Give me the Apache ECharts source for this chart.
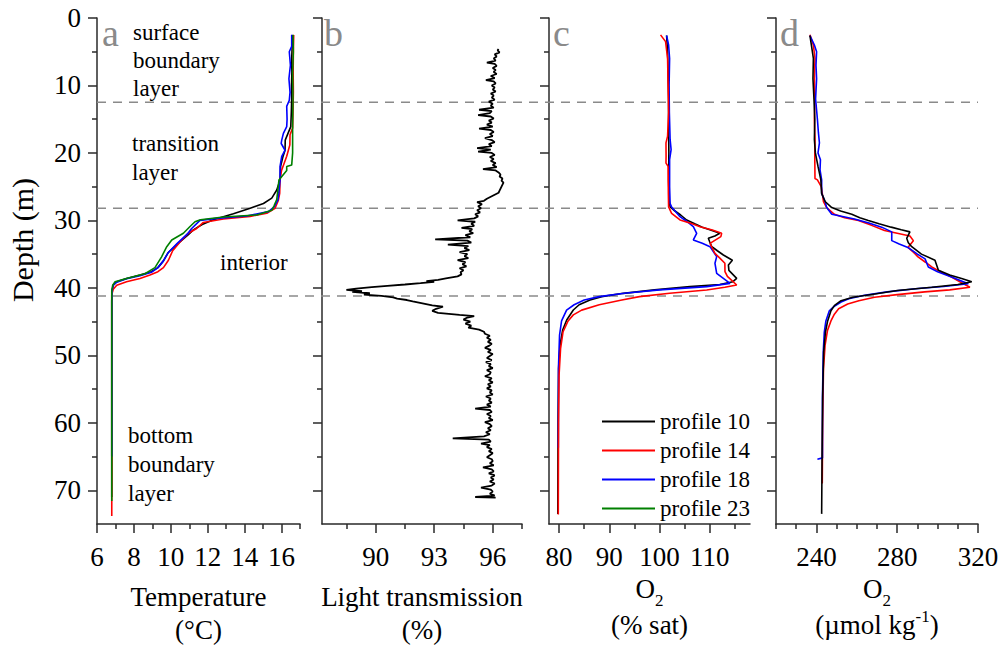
<!DOCTYPE html>
<html><head><meta charset="utf-8">
<script src="https://cdn.jsdelivr.net/npm/echarts@6/dist/echarts.min.js"></script>
<style>html,body{margin:0;padding:0;background:#fff}#c{width:1002px;height:654px}</style>
</head><body><div id="c"></div>
<script>
// ---------- tick values ----------
const depthTicks = [0, 10, 20, 30, 40, 50, 60, 70];
const depthMinor = [5, 15, 25, 35, 45, 55, 65];
const tempTicks = [6, 8, 10, 12, 14, 16];
const tempMinor = [7, 9, 11, 13, 15, 17];
const lightTicks = [90, 93, 96];
const lightMinor = [88.5, 91.5, 94.5, 97.5];
const satTicks = [80, 90, 100, 110];
const satMinor = [85, 95, 105, 115];
const umolTicks = [240, 280, 320];
const umolMinor = [220, 230, 250, 260, 270, 290, 300, 310];
const layerDepths = [12.5, 28.2, 41.2];
const profileNames = ['profile 10', 'profile 14', 'profile 18', 'profile 23'];

// ---------- panel a: temperature [°C, depth m] ----------
const temp10 = [[16.6,2.5],[16.58,4],[16.55,6],[16.56,8],[16.54,10],[16.55,12],[16.53,14],[16.5,16.1],[16.35,17.1],[16.2,18.1],[16.19,19.6],[16.07,20.6],[15.95,22],[15.92,24],[15.74,25.5],[15.47,26.7],[15.02,27.5],[14.3,28.2],[13.39,29.0],[12.3,29.9],[11.7,30.6],[11.22,31.4],[10.95,32.1],[10.4,33.4],[9.85,34.8],[9.6,36],[9.3,37],[8.95,37.6],[8.33,38.1],[7.6,38.6],[7.07,39.1],[6.88,39.6],[6.81,40.5],[6.8,42],[6.8,55],[6.8,71]];
const temp14 = [[16.66,2.5],[16.64,5],[16.63,8],[16.64,11],[16.62,14],[16.6,16.3],[16.46,17.3],[16.45,18.8],[16.37,19.6],[16.28,20.5],[16.0,22.6],[15.92,24],[15.9,26],[15.83,27],[15.65,28.2],[15.2,28.95],[14.3,29.4],[12.85,29.8],[11.76,30.3],[11.4,31.2],[10.95,31.9],[10.5,33.2],[10.1,34.5],[9.87,35.9],[9.6,37],[9.3,37.6],[8.87,38.1],[8.33,38.6],[7.6,39.1],[7.07,39.6],[6.88,40.2],[6.8,41],[6.8,55],[6.8,73.8]];
const temp18 = [[16.55,2.5],[16.55,4.2],[16.42,5],[16.48,7],[16.4,9],[16.46,11],[16.42,12.2],[16.28,13.1],[16.3,15],[16.28,16.1],[16.1,17.1],[16.01,18.1],[15.98,18.6],[16.19,19.6],[16.01,20.5],[15.92,22],[15.92,24],[15.85,26],[15.8,27],[15.6,28],[15.29,28.7],[14.11,29.35],[12.49,29.7],[11.58,30.0],[11.13,31.2],[10.9,32],[10.35,33.4],[9.85,34.8],[9.6,36],[9.3,37],[8.95,37.7],[8.33,38.2],[7.6,38.65],[7.07,39.15],[6.88,39.6],[6.81,40.5],[6.8,42],[6.8,65]];
const temp23 = [[16.62,2.5],[16.64,5],[16.6,8],[16.62,12],[16.6,16],[16.6,20],[16.55,21.8],[16.28,22.0],[16.28,22.6],[15.86,24],[15.8,25.5],[15.74,26.9],[15.6,27.8],[15.47,28.5],[14.66,29.2],[12.85,29.5],[11.6,29.9],[11.31,30.2],[11.04,30.9],[10.68,31.9],[10.05,32.9],[9.78,33.9],[9.5,35.4],[9.14,37],[8.6,37.9],[7.6,38.6],[6.98,39.1],[6.85,39.6],[6.8,40.5],[6.8,55],[6.8,71.6]];

// ---------- panel b: light transmission [%, depth m] ----------
const light = [[96.3,4.6],[96.25,4.8],[96.35,5.1],[96.1,5.4],[96.2,5.7],[96.05,6.0],[96.15,6.3],[95.7,6.6],[96.1,6.8],[96.2,7.1],[96.0,7.4],[96.15,7.7],[96.05,8.0],[96.2,8.3],[95.9,8.6],[96.1,8.9],[95.65,9.2],[96.05,9.4],[96.15,9.7],[95.95,10.0],[96.1,10.3],[96.0,10.6],[96.15,10.9],[95.9,11.2],[96.05,11.5],[95.95,11.8],[96.1,12.1],[95.8,12.4],[96.0,12.7],[95.9,13.0],[96.05,13.3],[95.3,13.6],[95.95,13.8],[95.85,14.1],[95.25,14.4],[95.9,14.6],[96.05,14.9],[95.8,15.2],[95.95,15.5],[95.7,15.8],[96.0,16.1],[95.3,16.4],[95.9,16.6],[96.05,16.9],[95.85,17.2],[96.0,17.5],[95.6,17.8],[95.95,18.1],[96.1,18.4],[95.8,18.7],[95.95,19.0],[95.2,19.3],[95.9,19.5],[95.25,19.8],[95.95,20.0],[96.1,20.3],[95.85,20.6],[96.05,20.9],[95.9,21.2],[96.15,21.5],[96.0,21.8],[96.2,22.1],[95.5,22.4],[96.15,22.6],[96.3,22.9],[96.4,23.2],[96.35,23.5],[96.5,23.8],[96.45,24.1],[96.55,24.4],[96.5,24.7],[96.45,25.0],[96.4,25.3],[96.35,25.6],[96.3,25.9],[96.1,26.2],[95.9,26.5],[95.7,26.8],[95.55,27.1],[95.2,27.3],[95.45,27.6],[95.25,27.9],[95.4,28.2],[95.2,28.5],[95.35,28.8],[95.1,29.1],[95.25,29.4],[95.05,29.7],[94.2,30.0],[95.1,30.2],[94.9,30.5],[95.05,30.8],[94.4,31.1],[94.95,31.3],[94.8,31.6],[95.0,31.9],[94.6,32.2],[94.85,32.5],[93.05,32.8],[94.7,33.0],[94.9,33.3],[93.7,33.6],[94.75,33.8],[94.55,34.1],[94.8,34.4],[94.3,34.7],[94.7,35.0],[94.55,35.3],[94.75,35.6],[94.2,35.9],[94.6,36.2],[94.45,36.5],[94.65,36.8],[94.3,37.1],[94.5,37.4],[94.35,37.7],[94.4,38.0],[94.2,38.3],[93.6,38.6],[93.2,38.8],[92.6,39.0],[93.0,39.1],[92.3,39.3],[91.5,39.5],[90.6,39.7],[89.8,39.9],[89.0,40.1],[88.5,40.3],[89.3,40.5],[88.8,40.6],[89.7,40.8],[89.4,41.0],[90.3,41.2],[90.9,41.4],[91.1,41.6],[91.6,41.8],[91.9,42.0],[92.4,42.3],[92.9,42.6],[93.45,42.8],[93.1,43.1],[92.9,43.4],[93.2,43.7],[94.3,44.0],[95.05,44.2],[94.7,44.4],[94.5,44.7],[94.85,45.0],[94.6,45.3],[94.9,45.6],[94.75,45.9],[95.3,46.2],[95.55,46.5],[95.6,46.8],[95.85,47.1],[95.7,47.4],[95.9,47.7],[95.75,48.0],[95.95,48.3],[95.8,48.6],[95.6,48.9],[95.9,49.2],[95.75,49.5],[96.0,49.8],[95.85,50.1],[95.7,50.4],[95.95,50.7],[95.65,51.0],[95.9,51.3],[95.8,51.6],[96.0,51.9],[95.7,52.2],[95.9,52.5],[95.85,52.8],[95.6,53.1],[95.95,53.4],[95.8,53.7],[96.0,54.0],[95.75,54.3],[95.9,54.6],[95.7,54.9],[95.95,55.2],[95.85,55.5],[96.0,55.8],[95.65,56.1],[95.9,56.4],[95.8,56.7],[95.95,57.0],[95.7,57.3],[95.9,57.6],[95.1,57.9],[95.85,58.1],[95.95,58.4],[95.7,58.7],[95.9,59.0],[95.8,59.3],[96.0,59.6],[95.6,59.9],[95.85,60.2],[95.95,60.5],[95.75,60.8],[95.9,61.1],[95.65,61.4],[95.85,61.7],[95.55,62.0],[93.95,62.3],[95.8,62.5],[95.9,62.8],[95.4,63.1],[95.85,63.3],[95.7,63.6],[95.95,63.9],[95.8,64.2],[96.0,64.5],[95.85,64.8],[95.7,65.1],[95.95,65.4],[96.0,65.7],[95.85,66.0],[96.05,66.3],[95.5,66.6],[95.95,66.9],[96.05,67.2],[95.8,67.5],[96.1,67.8],[95.9,68.1],[96.05,68.4],[95.85,68.7],[96.1,69.0],[95.95,69.3],[95.4,69.6],[95.9,69.9],[96.0,70.2],[95.85,70.5],[96.1,70.8],[95.1,71.0],[96.15,71.1]];

// ---------- panel c: O2 % saturation [%, depth m] ----------
const sat10 = [[101.4,2.6],[101.6,5],[101.7,8],[101.8,12],[101.8,16],[101.85,20],[101.8,24],[101.9,27],[102.1,28.0],[102.8,28.46],[104.2,29.2],[105.4,29.94],[107.0,30.5],[108.5,31.0],[110.0,31.4],[112.0,31.91],[111.0,32.3],[109.7,32.65],[110.0,33.2],[110.4,33.9],[111.5,34.5],[112.7,35.13],[114.5,35.9],[113.7,36.6],[113.8,37.4],[115.35,38.59],[114.6,39.08],[112,39.5],[106.06,39.82],[99,40.3],[92.8,40.81],[88.5,41.3],[86.16,41.8],[84,42.5],[82.84,43.28],[81.52,44.76],[80.72,46.24],[80.2,48.5],[79.9,52],[79.8,60],[79.75,73.5]];
const sat14 = [[100.2,2.5],[101.2,3.5],[101.6,6],[101.7,10],[101.8,14],[101.6,17.5],[101.28,18.5],[101.3,20.5],[101.28,21.5],[101.7,22],[101.75,26],[101.8,28.0],[102.4,28.95],[104.07,29.94],[106.5,30.5],[108.05,30.93],[110.5,31.42],[112.36,31.91],[112.2,32.4],[110.04,33.4],[110.5,34.1],[111.03,34.88],[112.0,35.6],[113.0,36.36],[113.02,37.6],[113.5,38.3],[115.35,39.58],[113,39.9],[109.38,40.32],[102,40.8],[96,41.3],[92.5,41.8],[88,42.5],[84.5,43.3],[82.84,44.0],[81.8,44.9],[80.8,46.5],[80.3,49],[80.0,53],[79.9,60],[79.85,73.6]];
const sat18 = [[101.4,2.6],[101.8,4],[102.0,6],[101.9,10],[101.95,14],[102.1,18],[102.3,19.5],[102.0,21],[102.0,25],[102.1,27.5],[102.4,28.0],[104.07,29.45],[105.5,30.2],[106.72,30.93],[107.39,31.91],[106.72,32.9],[108.5,33.4],[110.04,33.89],[111.37,35.37],[111.03,36.36],[111.37,37.85],[112.7,38.59],[114.02,39.33],[109.38,39.82],[100,40.3],[93,40.8],[88,41.3],[85,41.8],[83,42.5],[81.5,43.3],[80.5,44.9],[80.1,47],[79.9,51.5],[79.85,63.7]];

// ---------- panel d: O2 µmol/kg [µmol kg-1, depth m] ----------
const umol10 = [[236.8,2.6],[237.5,4],[238.5,6],[238.3,9],[238.8,12],[239.2,15],[239.0,18],[239.5,20],[240.8,22],[242.2,24],[242.6,26],[244.3,27.2],[247.6,28.1],[252,28.6],[257.5,29.1],[261.5,29.6],[265.7,30.0],[271,30.5],[277,31.0],[282,31.4],[286.3,31.7],[284.7,32.65],[285.5,33.3],[287.2,33.9],[292,35.0],[298.7,35.9],[300.4,37.4],[306,38.1],[311.9,38.6],[316.9,39.1],[310,39.5],[297.1,39.9],[280,40.4],[269,40.9],[258,41.4],[252.2,41.9],[249,42.6],[247.2,43.4],[245.5,45],[244.5,46.5],[243.6,49.5],[243.1,56],[242.8,65],[242.6,73.5]];
const umol14 = [[236.8,2.5],[238.5,4],[239.3,6],[239.0,9],[239.3,12],[239.0,15],[239.3,18],[239.2,20.8],[239.3,23.8],[240.5,24],[242.4,25],[243.5,27.2],[245.1,28.1],[248.9,29.1],[254,29.6],[260.8,30.0],[267,30.7],[273.7,31.5],[280,31.9],[286.3,32.3],[288,33],[285.3,34],[288,34.7],[290.3,35.4],[294,36.2],[297.1,36.9],[302,37.7],[306.9,38.4],[311,39.1],[316,39.9],[306,40.3],[293.6,40.6],[280,41.0],[268.8,41.4],[261,41.9],[255.5,42.4],[251,43.1],[248.9,43.9],[247.2,44.9],[245.5,46.3],[244.3,48.5],[243.5,52],[243.1,60],[242.9,69]];
const umol18 = [[236.8,2.6],[239,4],[240.1,5],[239.8,7],[240.1,9],[239.6,12],[240.5,15],[241.0,17],[241.5,18.5],[240.8,20],[242.0,21],[241.8,22.5],[242.6,24],[242.6,26],[244.3,27.2],[245.1,28.1],[247.6,29.1],[258.8,29.8],[266,30.4],[272.3,31.0],[277.3,31.7],[277.3,33.0],[281,33.5],[285.3,34.0],[290,35.0],[293.8,35.7],[295.4,36.9],[300,37.6],[306.9,38.4],[315.2,39.4],[303,39.8],[290.3,40.1],[275,40.6],[263.8,41.1],[256,41.6],[252.2,42.1],[248.5,42.8],[246.4,43.4],[244.7,44.9],[243.9,46.6],[243.4,49.5],[243,56.4],[243,65.2],[240.5,65.4]];

// ---------- layout ----------
const FONT = 'Liberation Serif';
const TOP = 18, HEIGHT = 506;
const panels = [
  { left: 97,  width: 203, min: 6,     max: 17,    ticks: tempTicks,  minor: tempMinor,  name: '{t|Temperature}\n{t|(°C)}', gap: 56.5 },
  { left: 322, width: 200, min: 87.25, max: 97.5,  ticks: lightTicks, minor: lightMinor, name: '{t|Light transmission}\n{t|(%)}', gap: 56.5 },
  { left: 549, width: 201, min: 78,    max: 118,   ticks: satTicks,   minor: satMinor,   name: '{o|O}{s|2}\n{t|(% sat)}', gap: 50.5 },
  { left: 776, width: 202, min: 220,   max: 320,   ticks: umolTicks,  minor: umolMinor,  name: '{o|O}{s|2}\n{t|(µmol kg}{sup|-1}{t|)}', gap: 50.5 }
];
const AX = '#2a2a2a';
const rich = {
  t: { fontFamily: FONT, fontSize: 27, lineHeight: 33, color: '#000' },
  o: { fontFamily: FONT, fontSize: 27, lineHeight: 27, padding: [0, 0, 12, 0], color: '#000' },
  s: { fontFamily: FONT, fontSize: 17, lineHeight: 17, padding: [11, 0, 0, 0], color: '#000' },
  sup: { fontFamily: FONT, fontSize: 17, lineHeight: 17, padding: [0, 0, 16, 0], color: '#000' }
};

const grid = [], xAxis = [], yAxis = [];
panels.forEach((p, i) => {
  grid.push({ left: p.left, width: p.width, top: TOP, height: HEIGHT, containLabel: false });
  xAxis.push({
    type: 'value', gridIndex: i, min: p.min, max: p.max, position: 'bottom',
    axisLine: { show: true, onZero: false, lineStyle: { color: AX, width: 1.5 } },
    axisTick: { show: true, inside: false, length: 9, customValues: p.ticks, lineStyle: { color: AX, width: 1.5 } },
    axisLabel: { show: true, customValues: p.ticks, margin: 20, fontFamily: FONT, fontSize: 27, color: '#000', lineHeight: 26 },
    splitLine: { show: false },
    name: p.name, nameLocation: 'middle', nameGap: p.gap,
    nameTextStyle: { fontFamily: FONT, fontSize: 27, lineHeight: 33, color: '#000', rich: rich }
  });
  xAxis.push({
    type: 'value', gridIndex: i, min: p.min, max: p.max, position: 'bottom',
    axisLine: { show: false, onZero: false },
    axisTick: { show: true, inside: false, length: 5, customValues: p.minor, lineStyle: { color: AX, width: 1.5 } },
    axisLabel: { show: false }, splitLine: { show: false }
  });
  yAxis.push({
    type: 'value', gridIndex: i, min: 0, max: 75, inverse: true, position: 'left',
    axisLine: { show: true, onZero: false, lineStyle: { color: AX, width: 1.5 } },
    axisTick: { show: true, inside: false, length: 9, customValues: depthTicks, lineStyle: { color: AX, width: 1.5 } },
    axisLabel: { show: i === 0, customValues: depthTicks, margin: 16, fontFamily: FONT, fontSize: 27, color: '#000' },
    splitLine: { show: false },
    name: i === 0 ? 'Depth (m)' : '', nameLocation: 'middle', nameRotate: 90, nameGap: 60,
    nameTextStyle: { fontFamily: FONT, fontSize: 30, color: '#000', padding: [0, 0, 0, 62] }
  });
  yAxis.push({
    type: 'value', gridIndex: i, min: 0, max: 75, inverse: true, position: 'left',
    axisLine: { show: false, onZero: false },
    axisTick: { show: true, inside: false, length: 5, customValues: depthMinor, lineStyle: { color: AX, width: 1.5 } },
    axisLabel: { show: false }, splitLine: { show: false }
  });
});
// overlay spanning all panels for the layer boundaries
grid.push({ left: 97, width: 881, top: TOP, height: HEIGHT });
xAxis.push({ type: 'value', gridIndex: 4, min: 0, max: 1, show: false });
yAxis.push({ type: 'value', gridIndex: 4, min: 0, max: 75, inverse: true, show: false });

const COLORS = { 'profile 10': '#000000', 'profile 14': '#ff0000', 'profile 18': '#0000ff', 'profile 23': '#008000' };
function prof(name, data, panel, width) {
  return {
    type: 'line', name: name, data: data, xAxisIndex: panel * 2, yAxisIndex: panel * 2,
    showSymbol: false, symbol: 'none', silent: true, z: 3,
    lineStyle: { color: COLORS[name], width: width || 1.6 }, itemStyle: { color: COLORS[name] }
  };
}
const series = [
  prof('profile 10', temp10, 0), prof('profile 14', temp14, 0), prof('profile 18', temp18, 0), prof('profile 23', temp23, 0),
  { type: 'line', name: 'light', data: light, xAxisIndex: 2, yAxisIndex: 2, showSymbol: false, symbol: 'none', silent: true, z: 3,
    lineStyle: { color: '#000', width: 1.8 } },
  prof('profile 10', sat10, 2), prof('profile 18', sat18, 2), prof('profile 14', sat14, 2),
  prof('profile 14', umol14, 3), prof('profile 18', umol18, 3), prof('profile 10', umol10, 3)
];
layerDepths.forEach(d => {
  series.push({ type: 'line', name: 'layer', data: [[0, d], [1, d]], xAxisIndex: 8, yAxisIndex: 8,
    showSymbol: false, symbol: 'none', silent: true, z: 2,
    lineStyle: { color: '#8a8a8a', width: 1.5, type: [9, 7] } });
});

function txt(text, x, y, size, color) {
  return { type: 'text', x: x, y: y, silent: true,
    style: { text: text, fontFamily: FONT, fontSize: size, fill: color || '#000', textAlign: 'left', textVerticalAlign: 'middle', align: 'left', verticalAlign: 'middle' } };
}
const graphic = [
  txt('a', 102, 33, 38, '#8a8a8a'), txt('b', 324, 33, 38, '#8a8a8a'), txt('c', 553, 33, 38, '#8a8a8a'), txt('d', 780, 33, 38, '#8a8a8a'),
  txt('surface', 133, 32, 23), txt('boundary', 133, 60, 23), txt('layer', 133, 88.5, 23),
  txt('transition', 132, 143.5, 23), txt('layer', 132, 172, 23),
  txt('interior', 220, 262, 23),
  txt('bottom', 128, 435, 23), txt('boundary', 128, 464.5, 23), txt('layer', 128, 493, 23)
];

const chart = echarts.init(document.getElementById('c'), null, { renderer: 'svg', width: 1002, height: 654 });
chart.setOption({
  animation: false,
  backgroundColor: '#fff',
  grid: grid, xAxis: xAxis, yAxis: yAxis, series: series, graphic: graphic,
  legend: {
    data: profileNames, orient: 'vertical', left: 597, top: 405, icon: 'rect',
    itemWidth: 53, itemHeight: 2, itemGap: 6, selectedMode: false,
    textStyle: { fontFamily: FONT, fontSize: 23, color: '#000' }
  }
});
</script></body></html>
